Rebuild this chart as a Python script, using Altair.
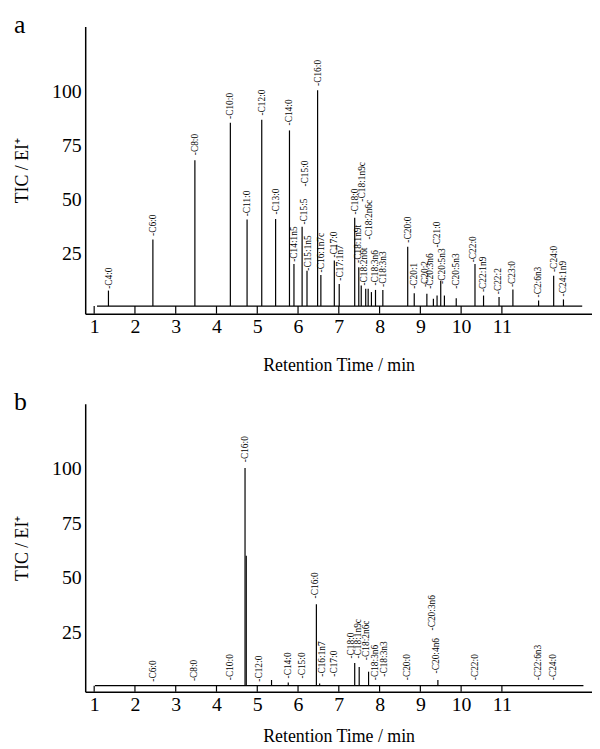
import altair as alt
import pandas as pd

# ---------------- Panel a data ----------------
a_peak_t = [1.35, 2.44, 3.47, 4.34, 4.75, 5.11, 5.45, 5.79, 5.90, 6.10,
            6.22, 6.48, 6.56, 6.89, 7.01, 7.39, 7.49, 7.55, 7.66, 7.72,
            7.80, 7.90, 8.08, 8.69, 8.85, 9.16, 9.32, 9.41, 9.50, 9.59,
            9.88, 10.34, 10.55, 10.93, 11.27, 11.90, 12.27, 12.51]
a_peak_h = [7.7, 31.4, 68.1, 85.4, 40.6, 86.9, 40.9, 81.9, 20.0, 37.3,
            16.9, 100.5, 14.9, 21.6, 10.8, 41.4, 18.5, 10.0, 8.5, 8.5,
            7.0, 8.0, 8.0, 28.0, 6.5, 6.2, 3.9, 5.4, 12.3, 5.4,
            4.2, 20.0, 5.4, 4.7, 8.2, 3.1, 14.6, 3.6]
a_labels = ["-C4:0", "-C6:0", "-C8:0", "-C10:0", "-C11:0", "-C12:0", "-C13:0", "-C14:0",
            "-C14:1n5", "-C15:5", "-C15:0", "-C15:1n5", "-C16:0", "-C16:1n7c", "-C17:0",
            "-C17:1n7", "-C18:0", "-C18:1n9t", "-C18:1n9c", "-C18:2n6t", "-C18:2n6c",
            "-C18:3n6", "-C18:3n3", "-C20:0", "-C20:1", "-C20:2", "-C20:3n6", "-C21:0",
            "-C20:5n3", "-C20:5n3", "-C22:0", "-C22:1n9", "-C22:2", "-C23:0", "-C2:6n3",
            "-C24:0", "-C24:1n9"]
a_label_t = [1.36, 2.44, 3.47, 4.34, 4.75, 5.11, 5.45, 5.79,
             5.90, 6.14, 6.18, 6.24, 6.48, 6.57, 6.89,
             7.03, 7.39, 7.47, 7.58, 7.62, 7.75,
             7.88, 8.08, 8.69, 8.85, 9.11, 9.24, 9.41,
             9.54, 9.88, 10.30, 10.53, 10.91, 11.26, 11.88,
             12.27, 12.50]
a_label_v = [8.5, 33.0, 70.4, 87.2, 42.1, 88.8, 42.9, 84.2,
             21.0, 38.3, 55.9, 16.9, 102.5, 16.1, 23.0,
             12.3, 42.9, 20.5, 48.9, 10.0, 31.4,
             10.0, 9.4, 29.9, 8.5, 9.3, 8.5, 27.6,
             10.8, 8.5, 20.8, 7.0, 6.0, 9.3, 4.5,
             16.3, 5.0]
a_trace = [1.07, 12.97]

# ---------------- Panel b data ----------------
b_peak_t = [4.70, 4.73, 5.35, 5.76, 6.45, 6.53, 7.39, 7.50, 7.73, 9.43]
b_peak_h = [100.2, 60.0, 3.1, 1.9, 37.8, 1.5, 10.9, 9.1, 6.9, 3.1]
b_labels = ["-C6:0", "-C8:0", "-C10:0", "-C16:0", "-C12:0", "-C14:0", "-C15:0", "-C16:0",
            "-C16:1n7", "-C17:0", "-C18:0", "-C18:1n9c", "-C18:2n6c", "-C18:3n6",
            "-C18:3n3", "-C20:0", "-C20:3n6", "-C20:4n6", "-C22:0", "-C22:6n3", "-C24:0"]
b_label_t = [2.44, 3.45, 4.33, 4.71, 5.05, 5.76, 6.10, 6.42,
             6.58, 6.88, 7.31, 7.46, 7.67, 7.89,
             8.10, 8.67, 9.28, 9.39, 10.34, 11.88, 12.25]
b_label_v = [2.3, 2.6, 3.0, 102.9, 2.3, 3.8, 3.8, 40.5,
             4.6, 4.6, 12.9, 12.9, 12.2, 3.0,
             4.6, 3.0, 25.8, 6.1, 3.0, 3.0, 3.0]
b_trace = [1.02, 13.0]

x_ticks = [1, 2, 3, 4, 5, 6, 7, 8, 9, 10, 11]
y_ticks = [25, 50, 75, 100]
baseline = 0.5
x_domain = [0.78, 13.21]

FONT = "Liberation Serif"


def panel(letter, pt, ph, labs, lt, lv, trace, y_domain, height, xtitle_pad):
    xs = alt.Scale(domain=x_domain, nice=False, zero=False)
    ys = alt.Scale(domain=y_domain, nice=False, zero=False)
    xaxis = alt.Axis(values=x_ticks, format="d", ticks=False, labelPadding=3,
                     grid=False, title="Retention Time / min", titlePadding=xtitle_pad)
    yaxis = alt.Axis(values=y_ticks, format="d", ticks=False, labelPadding=4,
                     grid=False, title="TIC / EI⁺", titlePadding=20)

    peaks = pd.DataFrame({"t": pt, "v": [baseline] * len(pt), "v2": ph})
    labels = pd.DataFrame({"t": lt, "v": lv, "name": labs})
    base = pd.DataFrame({"t": [trace[0]], "t2": [trace[1]], "v": [baseline]})
    ticks = pd.DataFrame({"t": x_ticks, "v": [y_domain[0]] * len(x_ticks),
                          "v2": [baseline] * len(x_ticks)})

    peak_layer = alt.Chart(peaks).mark_rule(color="black", strokeWidth=1.2).encode(
        x=alt.X("t:Q", scale=xs, axis=xaxis),
        y=alt.Y("v:Q", scale=ys, axis=yaxis),
        y2="v2:Q",
    )
    base_layer = alt.Chart(base).mark_rule(color="black", strokeWidth=1.2).encode(
        x=alt.X("t:Q", scale=xs, axis=xaxis),
        x2="t2:Q",
        y=alt.Y("v:Q", scale=ys, axis=yaxis),
    )
    tick_layer = alt.Chart(ticks).mark_rule(color="black", strokeWidth=1.2).encode(
        x=alt.X("t:Q", scale=xs, axis=xaxis),
        y=alt.Y("v:Q", scale=ys, axis=yaxis),
        y2="v2:Q",
    )
    text_layer = alt.Chart(labels).mark_text(
        angle=270, align="left", baseline="middle", font=FONT, fontSize=9.5, color="black"
    ).encode(
        x=alt.X("t:Q", scale=xs, axis=xaxis),
        y=alt.Y("v:Q", scale=ys, axis=yaxis),
        text="name:N",
    )
    return alt.layer(base_layer, tick_layer, peak_layer, text_layer).properties(
        width=512, height=height,
        title=alt.TitleParams(letter, anchor="start", fontSize=26, font=FONT,
                              fontWeight="normal", offset=-11, color="black"),
    )


pa = panel("a", a_peak_t, a_peak_h, a_labels, a_label_t, a_label_v, a_trace,
           [-3, 130], 290, 20)
pb = panel("b", b_peak_t, b_peak_h, b_labels, b_label_t, b_label_v, b_trace,
           [-2.3, 129.7], 291, 13)

chart = alt.vconcat(pa, pb, spacing=15).properties(
    padding={"left": 6, "top": 0, "right": 0, "bottom": 0}
).configure_view(stroke=None).configure_axis(
    labelFont=FONT, labelFontSize=20, labelColor="black",
    titleFont=FONT, titleFontSize=18, titleFontWeight="normal", titleColor="black",
    domainColor="black", domainWidth=1.5,
)

chart.save("out.html", embed_options={"renderer": "svg", "actions": False})
